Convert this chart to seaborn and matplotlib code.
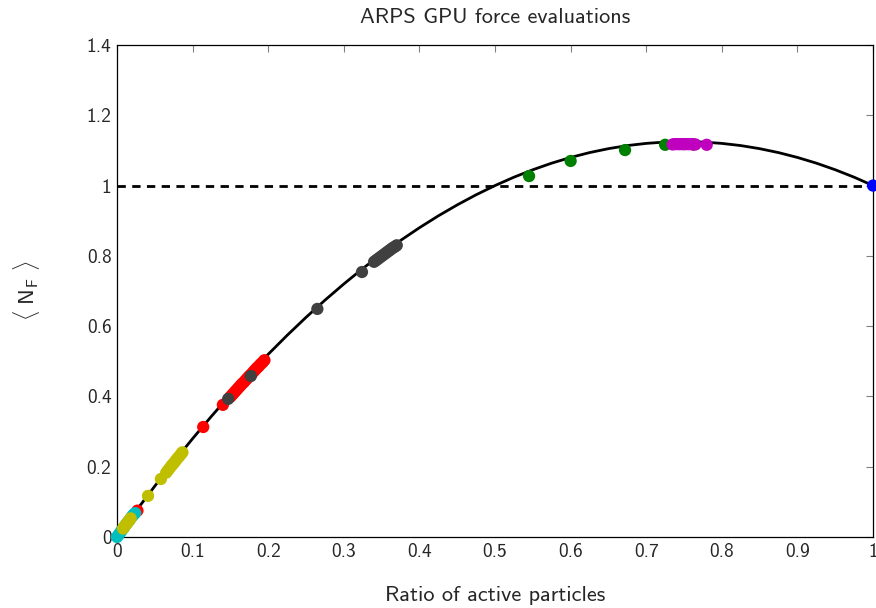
import numpy as np
import pandas as pd
import seaborn as sns
import matplotlib.pyplot as plt

# model curve
curve_x = [0.0, 0.025, 0.05, 0.075, 0.1, 0.125, 0.15, 0.175, 0.2, 0.225, 0.25,
           0.275, 0.3, 0.325, 0.35, 0.375, 0.4, 0.425, 0.45, 0.475, 0.5,
           0.525, 0.55, 0.575, 0.6, 0.625, 0.65, 0.675, 0.7, 0.725, 0.75,
           0.775, 0.8, 0.825, 0.85, 0.875, 0.9, 0.925, 0.95, 0.975, 1.0]
curve_y = [0.0, 0.0738, 0.145, 0.2138, 0.28, 0.3438, 0.405, 0.4638, 0.52, 0.5738, 0.625,
           0.6738, 0.72, 0.7638, 0.805, 0.8438, 0.88, 0.9138, 0.945, 0.9738, 1.0,
           1.0238, 1.045, 1.0638, 1.08, 1.0938, 1.105, 1.1138, 1.12, 1.1238, 1.125,
           1.1238, 1.12, 1.1138, 1.105, 1.0938, 1.08, 1.0638, 1.045, 1.0238, 1.0]
reference_level = 1.0

# measured points, one group per colour
red_x = [0.027, 0.114, 0.140, 0.150, 0.1525, 0.155, 0.1575, 0.160, 0.1625, 0.165, 0.1675,
         0.170, 0.1725, 0.175, 0.1775, 0.180, 0.1825, 0.185, 0.1875, 0.190, 0.1925, 0.195]
red_y = [0.075, 0.313, 0.376, 0.399, 0.405, 0.411, 0.417, 0.423, 0.429, 0.435, 0.440,
         0.446, 0.452, 0.458, 0.463, 0.469, 0.475, 0.481, 0.486, 0.492, 0.497, 0.503]
cyan_x = [0.0, 0.002, 0.004, 0.006, 0.008, 0.010, 0.012, 0.014, 0.016, 0.018, 0.020, 0.022, 0.024]
cyan_y = [0.0, 0.006, 0.012, 0.018, 0.024, 0.030, 0.036, 0.042, 0.047, 0.053, 0.059, 0.064, 0.068]
yellow_x = [0.008, 0.010, 0.012, 0.014, 0.016, 0.018, 0.041, 0.058,
            0.065, 0.0675, 0.070, 0.0725, 0.075, 0.0775, 0.080, 0.0825, 0.085, 0.0865]
yellow_y = [0.024, 0.030, 0.036, 0.041, 0.047, 0.053, 0.117, 0.165,
            0.183, 0.190, 0.197, 0.204, 0.210, 0.217, 0.224, 0.230, 0.237, 0.241]
gray_x = [0.147, 0.177, 0.265, 0.324, 0.340, 0.3425, 0.345, 0.3475, 0.350, 0.3525,
          0.355, 0.3575, 0.360, 0.3625, 0.365, 0.3675, 0.370]
gray_y = [0.393, 0.458, 0.649, 0.754, 0.783, 0.787, 0.791, 0.795, 0.799, 0.803,
          0.807, 0.811, 0.815, 0.819, 0.823, 0.826, 0.830]
green_x = [0.545, 0.600, 0.672, 0.725, 0.750, 0.762]
green_y = [1.027, 1.070, 1.101, 1.116, 1.118, 1.117]
magenta_x = [0.735, 0.7375, 0.740, 0.7425, 0.745, 0.7475, 0.750, 0.7525, 0.755,
             0.7575, 0.760, 0.7625, 0.765, 0.780]
magenta_y = [1.117, 1.118, 1.118, 1.118, 1.118, 1.118, 1.118, 1.118, 1.118,
             1.118, 1.118, 1.117, 1.117, 1.116]
blue_x = [1.0]
blue_y = [1.0]

groups = [(red_x, red_y, "#ff0000"), (cyan_x, cyan_y, "#00bfbf"),
          (yellow_x, yellow_y, "#bfbf00"), (gray_x, gray_y, "#404040"),
          (green_x, green_y, "#008000"), (magenta_x, magenta_y, "#bf00bf"),
          (blue_x, blue_y, "#0000ff")]

sns.set_style("white")
plt.rcParams['font.family'] = ['cmss10', 'DejaVu Sans']
plt.rcParams['mathtext.fontset'] = 'cm'
plt.rcParams['axes.formatter.use_mathtext'] = False

fig = plt.figure(figsize=(8.76, 6.08), dpi=100)
ax = fig.add_axes([0.1336, 0.1168, 0.863, 0.8092])

curve = pd.DataFrame({"x": curve_x, "y": curve_y})
sns.lineplot(data=curve, x="x", y="y", color="black", linewidth=2.0, ax=ax, zorder=2)
ax.axhline(reference_level, color="black", linewidth=2.0, dashes=(3.0, 2.3), zorder=2)

for xs, ys, col in groups:
    sns.scatterplot(x=xs, y=ys, color=col, s=78, edgecolor="none", ax=ax, zorder=3, clip_on=False)

ax.set_xlim(0, 1)
ax.set_ylim(0, 1.4)
ax.set_xticks(np.arange(0, 1.01, 0.1))
ax.set_xticklabels(["0", "0.1", "0.2", "0.3", "0.4", "0.5", "0.6", "0.7", "0.8", "0.9", "1"])
ax.set_yticks(np.arange(0, 1.41, 0.2))
ax.set_yticklabels(["0", "0.2", "0.4", "0.6", "0.8", "1", "1.2", "1.4"])
ax.tick_params(direction="in", length=5, width=0.8, color="#808080",
               top=True, right=True, labelsize=14, pad=4)
for sp in ax.spines.values():
    sp.set_color("black")
    sp.set_linewidth(0.9)

ax.set_title("ARPS GPU force evaluations", fontsize=16, pad=16)
ax.set_xlabel("Ratio of active particles", fontsize=16, labelpad=18)
ax.set_ylabel(r"$\langle\ \mathsf{N_F}\ \rangle$", fontsize=16, labelpad=32)

fig.savefig("out.png", dpi=100)
